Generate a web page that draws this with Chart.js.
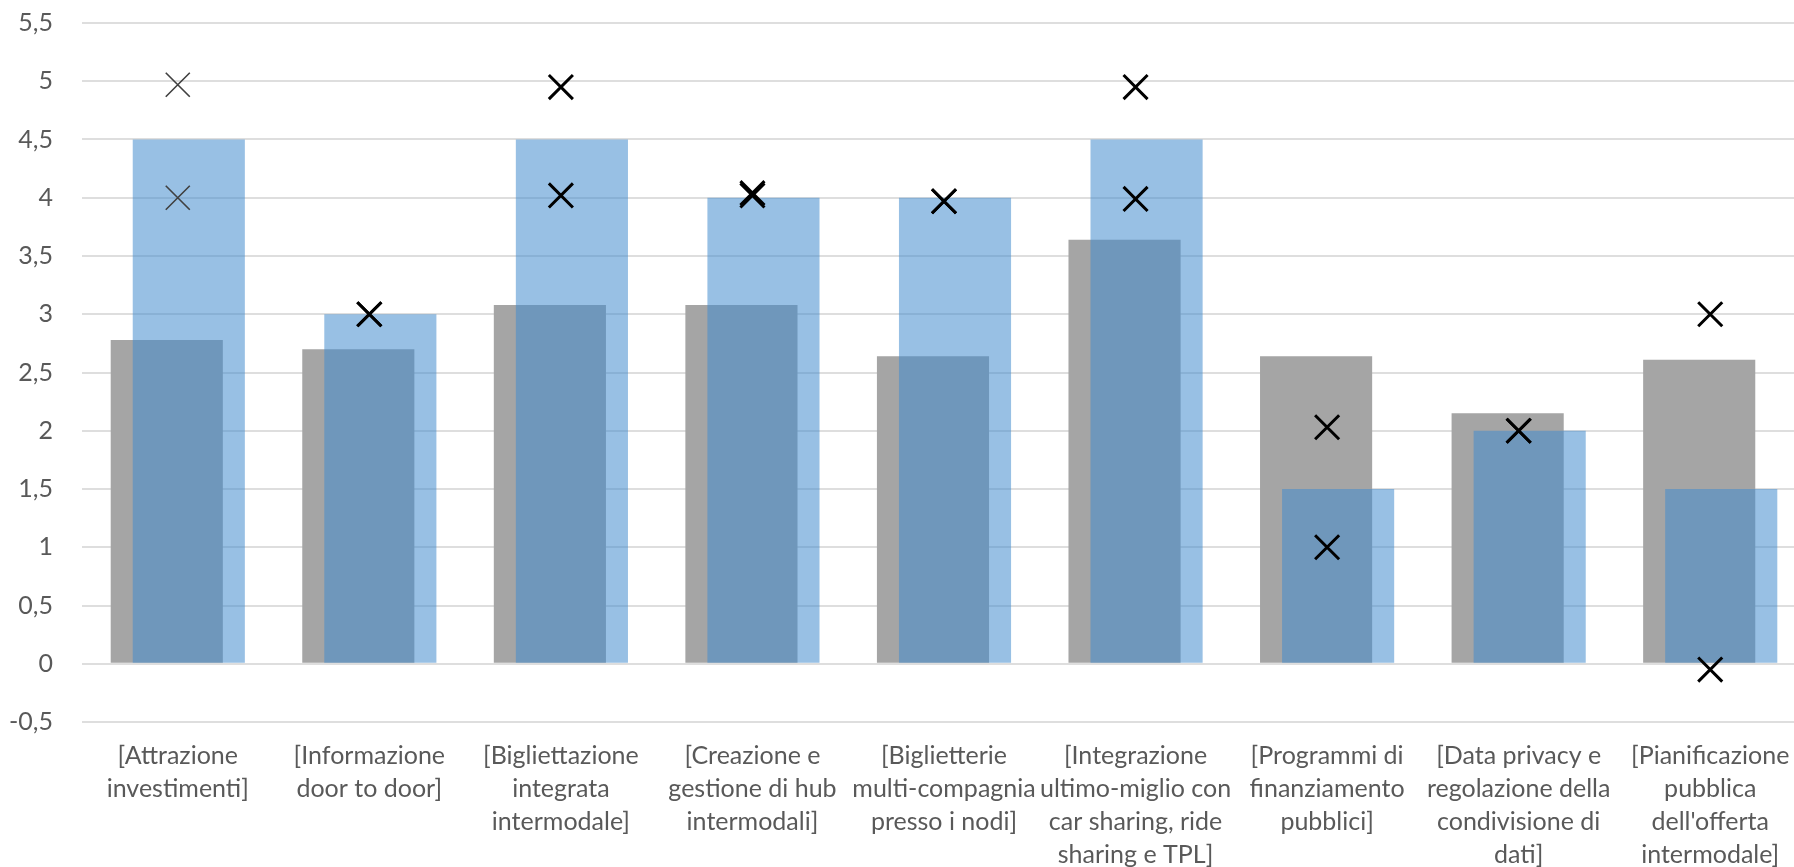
<!DOCTYPE html>
<html>
<head>
<meta charset="utf-8">
<script src="https://cdn.jsdelivr.net/npm/chart.js@4.4.0/dist/chart.umd.min.js"></script>
<style>
  html, body { margin: 0; padding: 0; background: #ffffff; overflow: hidden; }
  canvas { display: block; }
</style>
</head>
<body>
<!-- plot runs slightly past the right edge of the window -->
<canvas id="chart" width="1806" height="867"></canvas>
<script>
// Policy areas (category axis)
const categories = [
  ["[Attrazione", "investimenti]"],
  ["[Informazione", "door to door]"],
  ["[Bigliettazione", "integrata", "intermodale]"],
  ["[Creazione e", "gestione di hub", "intermodali]"],
  ["[Biglietterie", "multi-compagnia", "presso i nodi]"],
  ["[Integrazione", "ultimo-miglio con", "car sharing, ride", "sharing e TPL]"],
  ["[Programmi di", "finanziamento", "pubblici]"],
  ["[Data privacy e", "regolazione della", "condivisione di", "dati]"],
  ["[Pianificazione", "pubblica", "dell'offerta", "intermodale]"]
];

// Average scores (grey bars)
const averageScores = [2.78, 2.70, 3.08, 3.08, 2.64, 3.64, 2.64, 2.15, 2.61];
// Reference scores (blue bars)
const referenceScores = [4.5, 3, 4.5, 4, 4, 4.5, 1.5, 2, 1.5];
// Individual answers (cross markers)
const answersA = [4.97, 3.0, 4.95, 4.04, 3.97, 4.95, 2.03, 2.0, 3.0];
const answersB = [4.0, 3.0, 4.02, 4.02, 3.97, 3.99, 1.0, 2.0, -0.05];

// Value axis
const yMin = -0.5;
const yMax = 5.5;
const yStep = 0.5;

const FONT = "Lato, 'Open Sans', sans-serif";
const TEXT = '#595959';

// Grey bars sit behind the translucent blue ones while keeping their left slot
const layerBars = {
  id: 'layerBars',
  beforeDatasetDraw(chart, args) {
    if (args.index === 0) return false;
    if (args.index === 1) chart.getDatasetMeta(0).controller.draw();
  }
};

const crossColor = ctx => ctx.dataIndex === 0 ? '#404040' : '#000000';
const crossWidth = ctx => ctx.dataIndex === 0 ? 1.6 : 3;

new Chart(document.getElementById('chart'), {
  data: {
    labels: categories,
    datasets: [
      {
        type: 'bar',
        label: 'Media',
        data: averageScores,
        backgroundColor: '#a5a5a5',
        borderWidth: 0,
        order: 1
      },
      {
        type: 'bar',
        label: 'Riferimento',
        data: referenceScores,
        backgroundColor: 'rgba(68,140,205,0.55)',
        borderWidth: 0,
        order: 1
      },
      {
        type: 'line',
        label: 'Risposta A',
        data: answersA,
        showLine: false,
        pointStyle: 'crossRot',
        pointRadius: 17,
        pointHoverRadius: 17,
        borderColor: crossColor,
        pointBorderWidth: crossWidth,
        order: 0
      },
      {
        type: 'line',
        label: 'Risposta B',
        data: answersB,
        showLine: false,
        pointStyle: 'crossRot',
        pointRadius: 17,
        pointHoverRadius: 17,
        borderColor: crossColor,
        pointBorderWidth: crossWidth,
        order: 0
      }
    ]
  },
  options: {
    responsive: false,
    animation: false,
    events: [],
    layout: { autoPadding: false, padding: 0 },
    datasets: {
      bar: { categoryPercentage: 0.23, barPercentage: 5.09 }
    },
    plugins: {
      legend: { display: false },
      tooltip: { enabled: false }
    },
    scales: {
      x: {
        type: 'category',
        offset: true,
        grid: { display: false, drawTicks: false },
        border: { display: false },
        ticks: {
          color: TEXT,
          font: { family: FONT, size: 25, lineHeight: 1.32 },
          maxRotation: 0,
          autoSkip: false,
          padding: 17
        },
        afterFit(scale) {
          scale.height = 145;
          scale.paddingLeft = 0;
          scale.paddingRight = 0;
        }
      },
      y: {
        type: 'linear',
        min: yMin,
        max: yMax,
        grid: { color: '#dedede', lineWidth: 2, drawTicks: false },
        border: { display: false },
        ticks: {
          stepSize: yStep,
          color: TEXT,
          font: { family: FONT, size: 25 },
          padding: 29,
          callback: v => String(Math.round(v * 10) / 10).replace('.', ',')
        },
        afterFit(scale) {
          scale.width = 82;
          scale.paddingTop = 23;
          scale.paddingBottom = 0;
        }
      }
    }
  },
  plugins: [layerBars]
});
</script>
</body>
</html>
